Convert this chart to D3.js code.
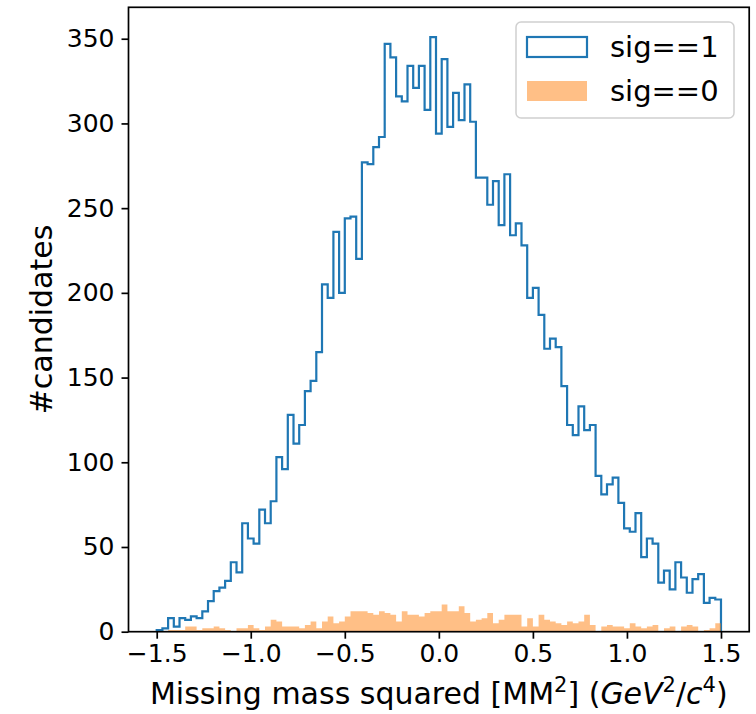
<!DOCTYPE html>
<html>
<head>
<meta charset="utf-8">
<script src="https://cdn.jsdelivr.net/npm/d3@7"></script>
<style>
  body { margin: 0; background: #fff; }
  svg text { font-family: "DejaVu Sans", sans-serif; fill: #000; }
</style>
</head>
<body>
<div id="chart"></div>
<script>
// histogram binning: 99 equal bins between -1.5 and 1.5
var binLo = -1.5,
	binHi = 1.5,
	nBins = 99;

// counts per bin
var sigOne = [
	1, 2, 8, 3, 8, 7, 9, 8, 12, 18,
	24, 26, 30, 41, 35, 64, 55, 52, 72, 64,
	77, 103, 96, 128, 111, 122, 142, 148, 165, 205,
	197, 236, 200, 244, 245, 220, 277, 276, 286, 292,
	347, 339, 316, 313, 334, 321, 334, 308, 351, 294,
	338, 298, 318, 302, 323, 301, 268, 268, 252, 266,
	240, 270, 234, 241, 228, 197, 203, 187, 167, 173,
	168, 145, 122, 116, 133, 119, 122, 92, 81, 87,
	91, 76, 61, 59, 70, 44, 55, 52, 29, 36,
	25, 41, 32, 23, 31, 34, 17, 20, 19
];
var sigZero = [
	0, 0, 1, 1, 1, 3, 3, 1, 2, 2,
	3, 2, 1, 0, 2, 2, 4, 2, 1, 3,
	7, 6, 3, 3, 3, 2, 4, 6, 2, 6,
	9, 5, 6, 9, 12, 12, 12, 11, 10, 12,
	11, 10, 6, 12, 10, 10, 9, 11, 12, 12,
	16, 12, 12, 15, 11, 6, 7, 8, 11, 5,
	7, 10, 10, 10, 3, 8, 3, 10, 7, 6,
	5, 4, 6, 5, 6, 10, 4, 0, 3, 4,
	3, 3, 2, 5, 3, 2, 3, 4, 0, 2,
	3, 0, 3, 4, 3, 0, 1, 2, 5
];

// tick values + labels
var xTicks = [ -1.5, -1.0, -0.5, 0.0, 0.5, 1.0, 1.5 ];
var yTicks = [ 0, 50, 100, 150, 200, 250, 300, 350 ];
var legendLabels = [ "sig==1", "sig==0" ];

// colours
var blue = "#1f77b4",
	orange = "#ff7f0e";

// chart dimensions
var width = 756,
	height = 714,
	plot = { left: 128.5, right: 749.2, top: 7.3, bottom: 631.7 };

var svg = d3.select( "#chart" ).append( "svg" )
	.attr( "width", width )
	.attr( "height", height );

// X AXIS (matplotlib-style 5% margins)
var span = binHi - binLo;
var x = d3.scaleLinear()
	.domain( [ binLo - span * 0.05, binHi + span * 0.05 ] )
	.range( [ plot.left, plot.right ] );

// Y AXIS
var yMax = d3.max( sigOne ) * 1.05;
var y = d3.scaleLinear()
	.domain( [ 0, yMax ] )
	.range( [ plot.bottom, plot.top ] );

// bin edges
var binW = span / nBins;
function edge( i ) {
	return binLo + i * binW;
}

// step outline points for a series
function stepPoints( counts ) {
	var pts = [ [ edge( 0 ), 0 ] ];
	counts.forEach( function ( c, i ) {
		pts.push( [ edge( i ), c ] );
	} );
	pts.push( [ edge( counts.length ), counts[ counts.length - 1 ] ] );
	pts.push( [ edge( counts.length ), 0 ] );
	return pts;
}

var stepLine = d3.line()
	.x( function ( d ) { return x( d[ 0 ] ); } )
	.y( function ( d ) { return y( d[ 1 ] ); } )
	.curve( d3.curveStepAfter );

var stepArea = d3.area()
	.x( function ( d ) { return x( d[ 0 ] ); } )
	.y0( y( 0 ) )
	.y1( function ( d ) { return y( d[ 1 ] ); } )
	.curve( d3.curveStepAfter );

// sig==1 : unfilled step
svg.append( "path" )
	.datum( stepPoints( sigOne ) )
	.attr( "fill", "none" )
	.attr( "stroke", blue )
	.attr( "stroke-width", 2.2 )
	.attr( "stroke-linejoin", "miter" )
	.attr( "d", stepLine );

// sig==0 : filled, half transparent
svg.append( "path" )
	.datum( stepPoints( sigZero ) )
	.attr( "fill", orange )
	.attr( "fill-opacity", 0.5 )
	.attr( "stroke", "none" )
	.attr( "d", stepArea );

// axes
var fmt = d3.format( ".1f" );

var gx = svg.append( "g" )
	.attr( "transform", "translate(0," + plot.bottom + ")" )
	.call( d3.axisBottom( x ).tickValues( xTicks ).tickFormat( fmt )
		.tickSizeInner( 7 ).tickSizeOuter( 0 ).tickPadding( 6 ) );

var gy = svg.append( "g" )
	.attr( "transform", "translate(" + plot.left + ",0)" )
	.call( d3.axisLeft( y ).tickValues( yTicks )
		.tickSizeInner( 7 ).tickSizeOuter( 0 ).tickPadding( 7 ) );

[ gx, gy ].forEach( function ( g ) {
	g.select( ".domain" ).remove();
	g.selectAll( ".tick line" ).attr( "stroke", "#000" ).attr( "stroke-width", 1.7 );
	g.selectAll( ".tick text" )
		.attr( "font-family", "DejaVu Sans" )
		.attr( "font-size", 25 )
		.attr( "fill", "#000" );
} );

// frame
svg.append( "rect" )
	.attr( "x", plot.left )
	.attr( "y", plot.top )
	.attr( "width", plot.right - plot.left )
	.attr( "height", plot.bottom - plot.top )
	.attr( "fill", "none" )
	.attr( "stroke", "#000" )
	.attr( "stroke-width", 1.7 );

// axis labels
var xLabel = svg.append( "text" )
	.attr( "x", ( plot.left + plot.right ) / 2 )
	.attr( "y", 704 )
	.attr( "text-anchor", "middle" )
	.attr( "font-size", 30 );
xLabel.append( "tspan" ).text( "Missing mass squared [MM" );
xLabel.append( "tspan" ).attr( "baseline-shift", "super" ).attr( "font-size", 21 ).text( "2" );
xLabel.append( "tspan" ).text( "] (" );
xLabel.append( "tspan" ).attr( "font-style", "italic" ).text( "GeV" );
xLabel.append( "tspan" ).attr( "baseline-shift", "super" ).attr( "font-size", 21 ).text( "2" );
xLabel.append( "tspan" ).text( "/" );
xLabel.append( "tspan" ).attr( "font-style", "italic" ).text( "c" );
xLabel.append( "tspan" ).attr( "baseline-shift", "super" ).attr( "font-size", 21 ).text( "4" );
xLabel.append( "tspan" ).text( ")" );

svg.append( "text" )
	.attr( "transform", "translate(52," + ( plot.top + plot.bottom ) / 2 + ") rotate(-90)" )
	.attr( "text-anchor", "middle" )
	.attr( "font-size", 30 )
	.text( "#candidates" );

// legend
var legend = svg.append( "g" ).attr( "transform", "translate(516,22)" );

legend.append( "rect" )
	.attr( "width", 218 )
	.attr( "height", 96 )
	.attr( "rx", 5 )
	.attr( "fill", "#fff" )
	.attr( "fill-opacity", 0.8 )
	.attr( "stroke", "#d0d0d0" )
	.attr( "stroke-width", 1.5 );

legendLabels.forEach( function ( lab, i ) {
	var row = legend.append( "g" ).attr( "transform", "translate(0," + ( i * 44 ) + ")" );
	var sw = row.append( "rect" )
		.attr( "x", 11 )
		.attr( "y", 15 )
		.attr( "width", 60 )
		.attr( "height", 20 );
	if ( i === 0 ) {
		sw.attr( "fill", "none" ).attr( "stroke", blue ).attr( "stroke-width", 2.2 );
	} else {
		sw.attr( "fill", orange ).attr( "fill-opacity", 0.5 );
	}
	row.append( "text" )
		.attr( "x", 94 )
		.attr( "y", 35 )
		.attr( "font-size", 29 )
		.text( lab );
} );
</script>
</body>
</html>
